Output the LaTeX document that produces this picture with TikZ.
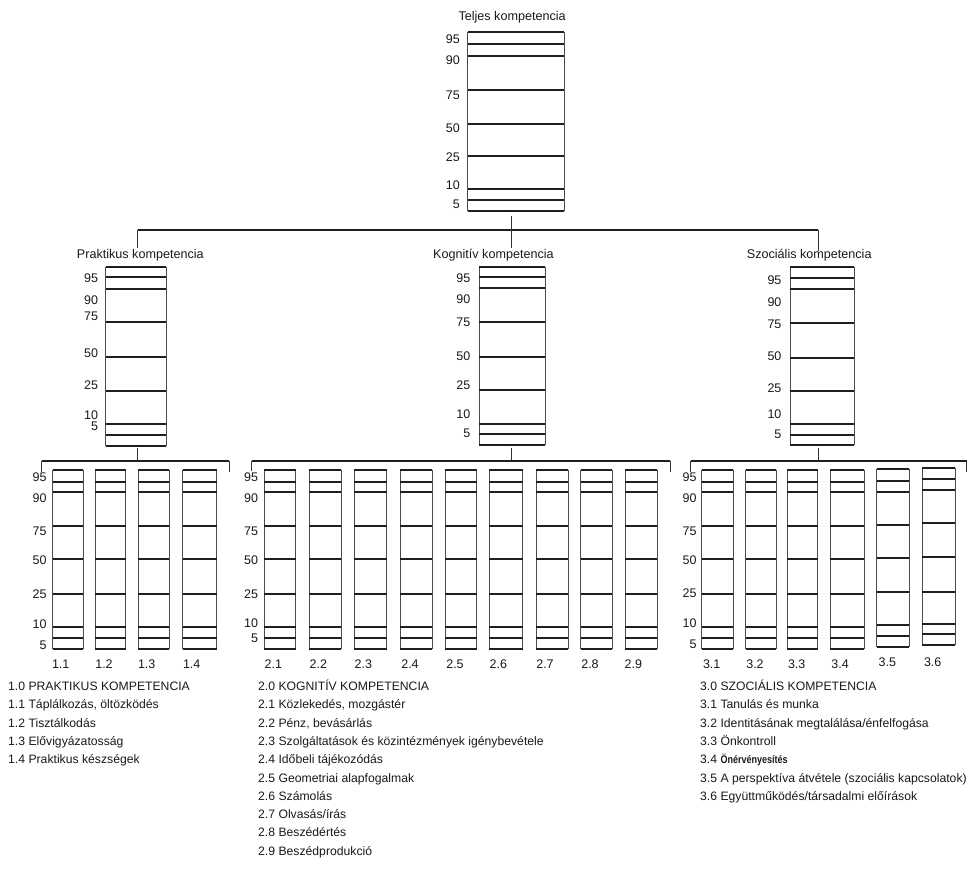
\documentclass[tikz,border=0pt]{standalone}
\usepackage{graphicx}
\usepackage{fontspec}
\setmainfont{Liberation Sans}
\newcommand{\pbox}[6]{%
  \draw[side] (#2,#4) -- (#2,#5) (#3,#4) -- (#3,#5);
  \foreach \yy in {#4,#5,#6} \draw[band] (#2,\yy) -- (#3,\yy);
  \coordinate (#1-t) at ({(#2+#3)/2},#4);
  \coordinate (#1-b) at ({(#2+#3)/2},#5);
}
\newcommand{\plabels}[3]{%
  \foreach \v/\yy in {#3} \node[num,anchor=east] (#1n\v) at (#2,\yy) {\v};
}
\newcommand{\scol}[3]{\pbox{#1}{#2}{#3}{470}{649.3}{481.7,492.3,526,559.3,594,626.7,638.3}}
\begin{document}
\begin{tikzpicture}[x=1pt,y=-1pt,
  band/.style={line width=1.8pt,black!88},
  side/.style={line width=0.7pt,black!70},
  conn/.style={line width=1.6pt,black!88},
  tick/.style={line width=0.8pt,black!80},
  num/.style={font=\fontsize{12.5}{14}\selectfont,text=black!90,inner sep=0pt},
  ttl/.style={font=\fontsize{12.6}{14}\selectfont,text=black!90,inner sep=0pt,anchor=base west},
  leg/.style={font=\fontsize{12.2}{14}\selectfont,text=black!90,inner sep=0pt,anchor=base west}]
\useasboundingbox (0,0) rectangle (968,877);

% ---------- top chart ----------
\node[ttl] (Tt) at (458.3,21) {Teljes kompetencia};
\pbox{T}{467.7}{564.3}{32.3}{210.7}{44,55.7,90.3,124,156.3,188.7,200}
\plabels{T}{460}{95/39,90/60,75/95,50/128.3,25/156.7,10/185,5/204}

\coordinate (Tstem) at (511.7,216);
\coordinate (h0) at (511.7,230);
\coordinate (hP) at (137.7,230);
\coordinate (hS) at (818.3,230);
\coordinate (dP) at (137.7,248);
\coordinate (dK) at (511.7,248);
\coordinate (dS) at (818.3,251);
\draw[conn] (hP) -- (hS);
\draw[tick] (Tstem) -- (h0) -- (dK);
\draw[tick] (hP) -- (dP);
\draw[tick] (hS) -- (dS);

% ---------- middle charts ----------
\node[ttl] (Pt) at (76.7,258.5) {Praktikus kompetencia};
\node[ttl] (Kt) at (433,258.5) {Kognitív kompetencia};
\node[ttl] (St) at (746.7,258.5) {Szociális kompetencia};

\pbox{P}{105.7}{166}{266.7}{445.7}{277.3,288.7,322,356.7,391,424.3,435}
\plabels{P}{98.3}{95/278,90/300,75/316.7,50/353,25/385,10/415,5/426.7}
\pbox{K}{479}{545.4}{266.7}{445}{277.3,288.3,322.3,357,390.3,423.7,434.3}
\plabels{K}{470.4}{95/278.3,90/299,75/322.3,50/355.7,25/385,10/414.3,5/433.3}
\pbox{S}{790}{854}{266.7}{445.3}{278,289,323,358,391,424,434.7}
\plabels{S}{781.6}{95/280,90/301.7,75/324.3,50/356,25/387.7,10/414.3,5/434}

% ---------- group connectors ----------
\coordinate (Pb) at (137.7,447.5);
\coordinate (g1c) at (137.7,461);
\coordinate (g1L) at (41.7,461);
\coordinate (g1Le) at (41.7,471.7);
\coordinate (g1R) at (229.3,461);
\coordinate (g1Re) at (229.3,471.7);
\draw[tick] (Pb) -- (g1c);
\draw[conn] (g1L) -- (g1R);
\draw[tick] (g1Le) -- (g1L) (g1R) -- (g1Re);

\coordinate (Kb) at (511.7,447.5);
\coordinate (g2c) at (511.7,461);
\coordinate (g2L) at (251.7,461);
\coordinate (g2Le) at (251.7,470.5);
\coordinate (g2R) at (670,461);
\coordinate (g2Re) at (670,471.7);
\draw[tick] (Kb) -- (g2c);
\draw[conn] (g2L) -- (g2R);
\draw[tick] (g2Le) -- (g2L) (g2R) -- (g2Re);

\coordinate (Sb) at (818.3,447.5);
\coordinate (g3c) at (818.3,461);
\coordinate (g3L) at (690.7,461);
\coordinate (g3Le) at (690.7,471.7);
\coordinate (g3R) at (966.7,461);
\coordinate (g3Re) at (966.7,471.7);
\draw[tick] (Sb) -- (g3c);
\draw[conn] (g3L) -- (g3R);
\draw[tick] (g3Le) -- (g3L) (g3R) -- (g3Re);

% ---------- small charts ----------
\foreach \id/\lab/\a/\b/\c in {11/1.1/52.7/83.3/60.7, 12/1.2/95/125.7/104, 13/1.3/138.3/169.3/146.7, 14/1.4/182.7/216.7/191.7,
  21/2.1/264.3/295.7/273.3, 22/2.2/309/341/318.3, 23/2.3/354/386.7/363.3, 24/2.4/400/432.3/410, 25/2.5/445/476.7/455,
  26/2.6/489.3/522.7/498.3, 27/2.7/536/568.3/545, 28/2.8/580.7/612.3/590, 29/2.9/625/657/633.3,
  31/3.1/701.7/733.3/711.7, 32/3.2/745.7/776/755, 33/3.3/787.3/817.7/796.7, 34/3.4/830/864.3/840}
{\scol{C\id}{\a}{\b}
 \node[num,anchor=base] (L\id) at (\c,668) {\lab};}
\pbox{C35}{876.7}{909}{469.3}{647.3}{481,491.7,525,558.3,592.3,625,636}
\node[num,anchor=base] (L35) at (887.3,666) {3.5};
\pbox{C36}{922.3}{955}{468.3}{645}{479.3,490,523.3,557.3,591.7,624,634.3}
\node[num,anchor=base] (L36) at (932.7,666) {3.6};

\plabels{Ga}{46.7}{95/476.7,90/498.3,75/531,50/560,25/594,10/624.3,5/645}
\plabels{Gb}{258.3}{95/476.7,90/498.3,75/531,50/560,25/594,10/623,5/638}
\plabels{Gc}{696.7}{95/476.7,90/497.7,75/531,50/560,25/593,10/623,5/644}

% ---------- legends ----------
\node[leg] (a0) at (8,690.5) {1.0 PRAKTIKUS KOMPETENCIA};
\node[leg] (a1) at (8,708.8) {1.1 Táplálkozás, öltözködés};
\node[leg] (a2) at (8,727.1) {1.2 Tisztálkodás};
\node[leg] (a3) at (8,745.4) {1.3 Elővigyázatosság};
\node[leg] (a4) at (8,763.7) {1.4 Praktikus készségek};

\node[leg] (b0) at (258,690.5) {2.0 KOGNITÍV KOMPETENCIA};
\node[leg] (b1) at (258,708.8) {2.1 Közlekedés, mozgástér};
\node[leg] (b2) at (258,727.1) {2.2 Pénz, bevásárlás};
\node[leg] (b3) at (258,745.4) {2.3 Szolgáltatások és közintézmények igénybevétele};
\node[leg] (b4) at (258,763.7) {2.4 Időbeli tájékozódás};
\node[leg] (b5) at (258,782.0) {2.5 Geometriai alapfogalmak};
\node[leg] (b6) at (258,800.3) {2.6 Számolás};
\node[leg] (b7) at (258,818.6) {2.7 Olvasás/írás};
\node[leg] (b8) at (258,836.9) {2.8 Beszédértés};
\node[leg] (b9) at (258,855.2) {2.9 Beszédprodukció};

\node[leg] (c0) at (700,690.5) {3.0 SZOCIÁLIS KOMPETENCIA};
\node[leg] (c1) at (700,708.8) {3.1 Tanulás és munka};
\node[leg] (c2) at (700,727.1) {3.2 Identitásának megtalálása/énfelfogása};
\node[leg] (c3) at (700,745.4) {3.3 Önkontroll};
\node[leg] (c4) at (700,763.7) {3.4 {\fontsize{11}{12}\selectfont\bfseries\scalebox{0.82}[1]{Önérvényesítés}}};
\node[leg] (c5) at (700,782.0) {3.5 A perspektíva átvétele (szociális kapcsolatok)};
\node[leg] (c6) at (700,800.3) {3.6 Együttműködés/társadalmi előírások};
\end{tikzpicture}
\end{document}
